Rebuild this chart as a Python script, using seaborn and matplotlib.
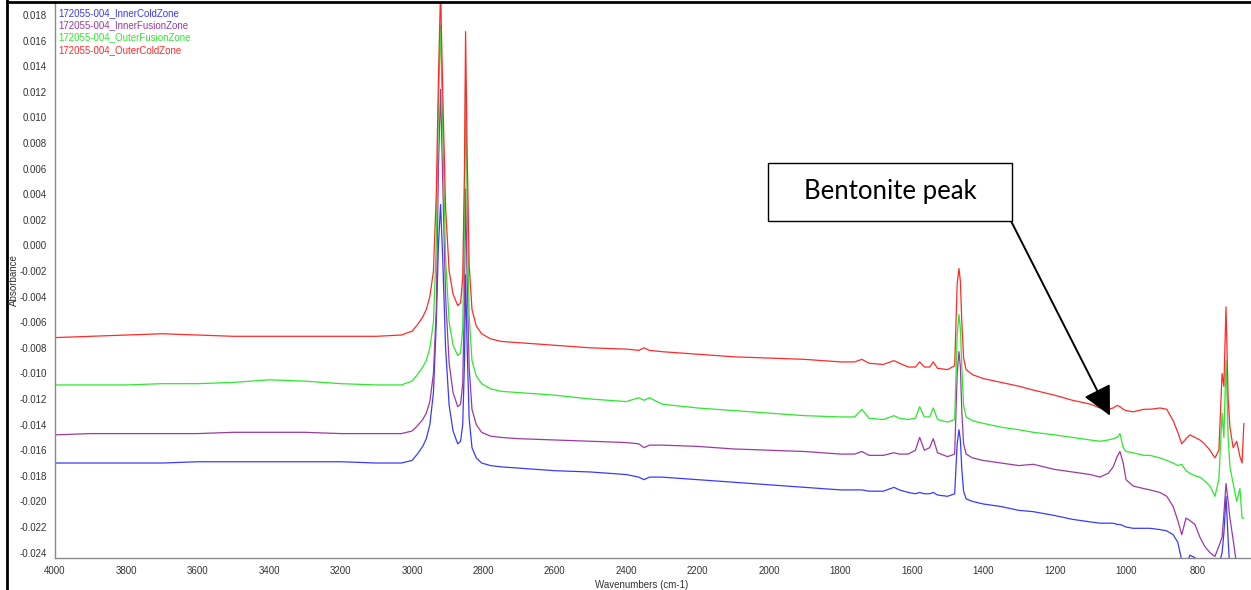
import matplotlib
matplotlib.use("Agg")
import matplotlib.pyplot as plt
import seaborn as sns
import numpy as np
import pandas as pd
from matplotlib.ticker import MultipleLocator, FormatStrFormatter
from matplotlib.patches import Rectangle
from matplotlib.lines import Line2D

# ---------------- data ----------------
wavenumbers = [4000, 3900, 3800, 3700, 3600, 3500, 3400, 3300, 3200, 3100, 3030, 3000,
               2985, 2970, 2960, 2950, 2940, 2932, 2926, 2920, 2914, 2906, 2896, 2885,
               2872, 2864, 2858, 2853, 2850, 2846, 2840, 2832, 2820, 2805, 2780, 2750,
               2700, 2600, 2500, 2400, 2365, 2350, 2335, 2300, 2200, 2100, 2000, 1900,
               1800, 1760, 1740, 1720, 1680, 1650, 1635, 1610, 1590, 1578, 1565, 1550,
               1540, 1528, 1500, 1480, 1473, 1468, 1464, 1460, 1455, 1448, 1430, 1400,
               1350, 1300, 1260, 1200, 1150, 1100, 1073, 1050, 1036, 1025, 1017, 1008,
               1000, 980, 950, 933, 905, 886, 868, 855, 844, 832, 821, 807, 793, 780,
               765, 751, 740, 731, 726, 720, 714, 709, 700, 690, 681, 675, 670]

outer_cold = [-0.0072, -0.0071, -0.0070, -0.0069, -0.0070, -0.0071, -0.0071, -0.0071, -0.0071, -0.0071, -0.0070, -0.0067,
              -0.0062, -0.0056, -0.0050, -0.0040, -0.0020, 0.0040, 0.0130, 0.0200, 0.0120, 0.0030, -0.0020, -0.0038,
              -0.0047, -0.0045, -0.0025, 0.0060, 0.0167, 0.0080, -0.0015, -0.0050, -0.0063, -0.0069, -0.0073, -0.0075,
              -0.0076, -0.0078, -0.0080, -0.0081, -0.0082, -0.0080, -0.0082, -0.0083, -0.0085, -0.0087, -0.0088, -0.0089,
              -0.0091, -0.0091, -0.0089, -0.0092, -0.0093, -0.0090, -0.0092, -0.0095, -0.0095, -0.0091, -0.0095, -0.0095,
              -0.0091, -0.0096, -0.0097, -0.0094, -0.0030, -0.0018, -0.0028, -0.0060, -0.0088, -0.0097, -0.0101, -0.0104,
              -0.0107, -0.0110, -0.0113, -0.0117, -0.0121, -0.0124, -0.0127, -0.0128, -0.0127, -0.0125, -0.0126, -0.0128,
              -0.0129, -0.0130, -0.0128, -0.0128, -0.0127, -0.0128, -0.0137, -0.0146, -0.0155, -0.0151, -0.0148, -0.0150, -0.0152, -0.0155,
              -0.0160, -0.0166, -0.0160, -0.0100, -0.0110, -0.0048, -0.0120, -0.0142, -0.0158, -0.0153, -0.0165, -0.0170, -0.0139]

outer_fusion = [-0.0109, -0.0109, -0.0109, -0.0108, -0.0108, -0.0107, -0.0105, -0.0106, -0.0108, -0.0109, -0.0109, -0.0106,
                -0.0101, -0.0095, -0.0090, -0.0080, -0.0060, 0.0000, 0.0110, 0.0172, 0.0090, -0.0010, -0.0060, -0.0078,
                -0.0086, -0.0084, -0.0065, 0.0020, 0.0128, 0.0040, -0.0055, -0.0090, -0.0102, -0.0108, -0.0112, -0.0114,
                -0.0115, -0.0117, -0.0120, -0.0122, -0.0119, -0.0121, -0.0119, -0.0124, -0.0127, -0.0129, -0.0131, -0.0133,
                -0.0134, -0.0134, -0.0128, -0.0135, -0.0136, -0.0133, -0.0135, -0.0136, -0.0135, -0.0126, -0.0134, -0.0134,
                -0.0127, -0.0136, -0.0138, -0.0136, -0.0070, -0.0054, -0.0065, -0.0095, -0.0125, -0.0134, -0.0137, -0.0139,
                -0.0142, -0.0144, -0.0146, -0.0148, -0.0150, -0.0152, -0.0153, -0.0152, -0.0151, -0.0150, -0.0147, -0.0158,
                -0.0161, -0.0162, -0.0164, -0.0164, -0.0166, -0.0168, -0.0170, -0.0172, -0.0171, -0.0176, -0.0178, -0.0180, -0.0181, -0.0184,
                -0.0188, -0.0196, -0.0183, -0.0131, -0.0150, -0.0090, -0.0150, -0.0173, -0.0186, -0.0200, -0.0190, -0.0213, -0.0213]

inner_fusion = [-0.0148, -0.0147, -0.0147, -0.0147, -0.0147, -0.0146, -0.0146, -0.0146, -0.0147, -0.0147, -0.0147, -0.0145,
                -0.0141, -0.0136, -0.0131, -0.0122, -0.0100, -0.0050, 0.0060, 0.0122, 0.0050, -0.0040, -0.0092, -0.0115,
                -0.0126, -0.0124, -0.0108, -0.0040, 0.0044, -0.0020, -0.0095, -0.0128, -0.0140, -0.0146, -0.0149, -0.0150,
                -0.0151, -0.0152, -0.0153, -0.0154, -0.0155, -0.0158, -0.0156, -0.0156, -0.0157, -0.0159, -0.0160, -0.0161,
                -0.0163, -0.0163, -0.0161, -0.0164, -0.0164, -0.0162, -0.0163, -0.0163, -0.0160, -0.0150, -0.0160, -0.0158,
                -0.0151, -0.0162, -0.0165, -0.0163, -0.0100, -0.0083, -0.0095, -0.0130, -0.0155, -0.0163, -0.0166, -0.0168,
                -0.0170, -0.0172, -0.0171, -0.0175, -0.0177, -0.0179, -0.0181, -0.0178, -0.0173, -0.0165, -0.0161, -0.0170,
                -0.0183, -0.0188, -0.0190, -0.0191, -0.0193, -0.0196, -0.0204, -0.0215, -0.0226, -0.0213, -0.0215, -0.0218, -0.0228, -0.0235,
                -0.0240, -0.0243, -0.0235, -0.0228, -0.0210, -0.0186, -0.0200, -0.0213, -0.0230, -0.0250, -0.0260, -0.0260, -0.0260]

inner_cold = [-0.0170, -0.0170, -0.0170, -0.0170, -0.0169, -0.0169, -0.0169, -0.0169, -0.0169, -0.0170, -0.0170, -0.0168,
              -0.0163, -0.0157, -0.0151, -0.0140, -0.0115, -0.0060, 0.0000, 0.0032, -0.0010, -0.0080, -0.0125, -0.0145,
              -0.0155, -0.0153, -0.0140, -0.0090, -0.0023, -0.0075, -0.0135, -0.0158, -0.0166, -0.0170, -0.0172, -0.0173,
              -0.0174, -0.0176, -0.0177, -0.0179, -0.0181, -0.0183, -0.0181, -0.0181, -0.0183, -0.0185, -0.0187, -0.0189,
              -0.0191, -0.0191, -0.0191, -0.0192, -0.0192, -0.0189, -0.0191, -0.0193, -0.0194, -0.0193, -0.0194, -0.0194,
              -0.0193, -0.0195, -0.0196, -0.0194, -0.0155, -0.0144, -0.0152, -0.0175, -0.0192, -0.0198, -0.0200, -0.0202,
              -0.0204, -0.0207, -0.0208, -0.0211, -0.0214, -0.0216, -0.0217, -0.0217, -0.0217, -0.0218, -0.0218, -0.0219,
              -0.0220, -0.0221, -0.0221, -0.0221, -0.0222, -0.0223, -0.0226, -0.0232, -0.0246, -0.0250, -0.0242, -0.0244, -0.0250, -0.0255,
              -0.0255, -0.0255, -0.0250, -0.0240, -0.0225, -0.0196, -0.0230, -0.0255, -0.0260, -0.0260, -0.0260, -0.0260, -0.0260]

series_names = ["172055-004_InnerColdZone", "172055-004_InnerFusionZone",
                "172055-004_OuterFusionZone", "172055-004_OuterColdZone"]
series_values = [inner_cold, inner_fusion, outer_fusion, outer_cold]
series_colors = ["#3a3aff", "#9b3aa0", "#2ee82e", "#ff2a2a"]

x_ticks = list(range(4000, 799, -200))
y_ticks = [round(-0.024 + 0.002 * i, 3) for i in range(22)]

# ---------------- figure ----------------
sns.set_style("white")
plt.rcParams["font.family"] = ["Liberation Sans", "DejaVu Sans"]

W, H = 1251, 590
fig = plt.figure(figsize=(W / 100, H / 100), dpi=100)
ax = fig.add_axes([55 / W, 32 / H, 1196 / W, 555 / H])

for name, vals, col in zip(series_names, series_values, series_colors):
    sns.lineplot(x=wavenumbers, y=vals, ax=ax, color=col, lw=0.9,
                 sort=False, estimator=None, legend=False)

ax.set_xlim(4000, 650)
ax.set_ylim(-0.02442, 0.01894)
ax.set_xticks(x_ticks)
ax.set_xticklabels([str(t) for t in x_ticks])
ax.xaxis.set_minor_locator(MultipleLocator(50))
ax.set_yticks(y_ticks)
ax.yaxis.set_major_formatter(FormatStrFormatter("%.3f"))
ax.yaxis.set_minor_locator(MultipleLocator(0.00025))

for s in ["top", "right"]:
    ax.spines[s].set_visible(False)
for s in ["left", "bottom"]:
    ax.spines[s].set_color("#8a8a8a")
    ax.spines[s].set_linewidth(1.0)

ax.tick_params(axis="x", which="major", direction="inout", length=5, width=0.8,
               color="#8a8a8a", labelsize=7, labelcolor="#333333", pad=3)
ax.tick_params(axis="x", which="minor", direction="inout", length=3, width=0.6, color="#8a8a8a")
ax.tick_params(axis="y", which="major", direction="out", length=4, width=0.8,
               color="#8a8a8a", labelsize=7, labelcolor="#333333", pad=2)
ax.tick_params(axis="y", which="minor", direction="out", length=1.5, width=0.6, color="#8a8a8a")
ax.set_xlabel("")
ax.set_ylabel("")

# axis titles
fig.text(14 / W, 1 - 280 / H, "Absorbance", rotation=90, fontsize=7,
         color="#333333", ha="center", va="center")
fig.text(642 / W, 1 - 585 / H, "Wavenumbers (cm-1)", fontsize=7,
         color="#333333", ha="center", va="center")

# legend-like labels
for i, (name, col) in enumerate(zip(series_names, series_colors)):
    fig.text(58 / W, 1 - (13 + 12.3 * i) / H, name, color=col, fontsize=7,
             ha="left", va="center")

# border lines
fig.add_artist(Line2D([7 / W, 7 / W], [0, 1], transform=fig.transFigure, color="black", lw=2))
fig.add_artist(Line2D([7 / W, 1], [1 - 1.5 / H, 1 - 1.5 / H], transform=fig.transFigure, color="black", lw=2))

# annotation box
fig.add_artist(Rectangle((768 / W, 1 - 221 / H), 244 / W, 58 / H, transform=fig.transFigure,
                         facecolor="white", edgecolor="black", lw=1.0, zorder=5))
fig.text(890 / W, 1 - 192 / H, "Bentonite peak", fontsize=18.5, family=["Lato", "DejaVu Sans"],
         ha="center", va="center", color="black", zorder=6)
ax.annotate("", xy=(1045, -0.0133), xycoords="data",
            xytext=(1011 / W, 1 - 221 / H), textcoords="figure fraction",
            arrowprops=dict(arrowstyle="-|>,head_length=1.0,head_width=0.5", lw=1.4,
                            color="black", mutation_scale=18, shrinkA=0, shrinkB=0),
            annotation_clip=False)

fig.savefig("out.png", dpi=100)
